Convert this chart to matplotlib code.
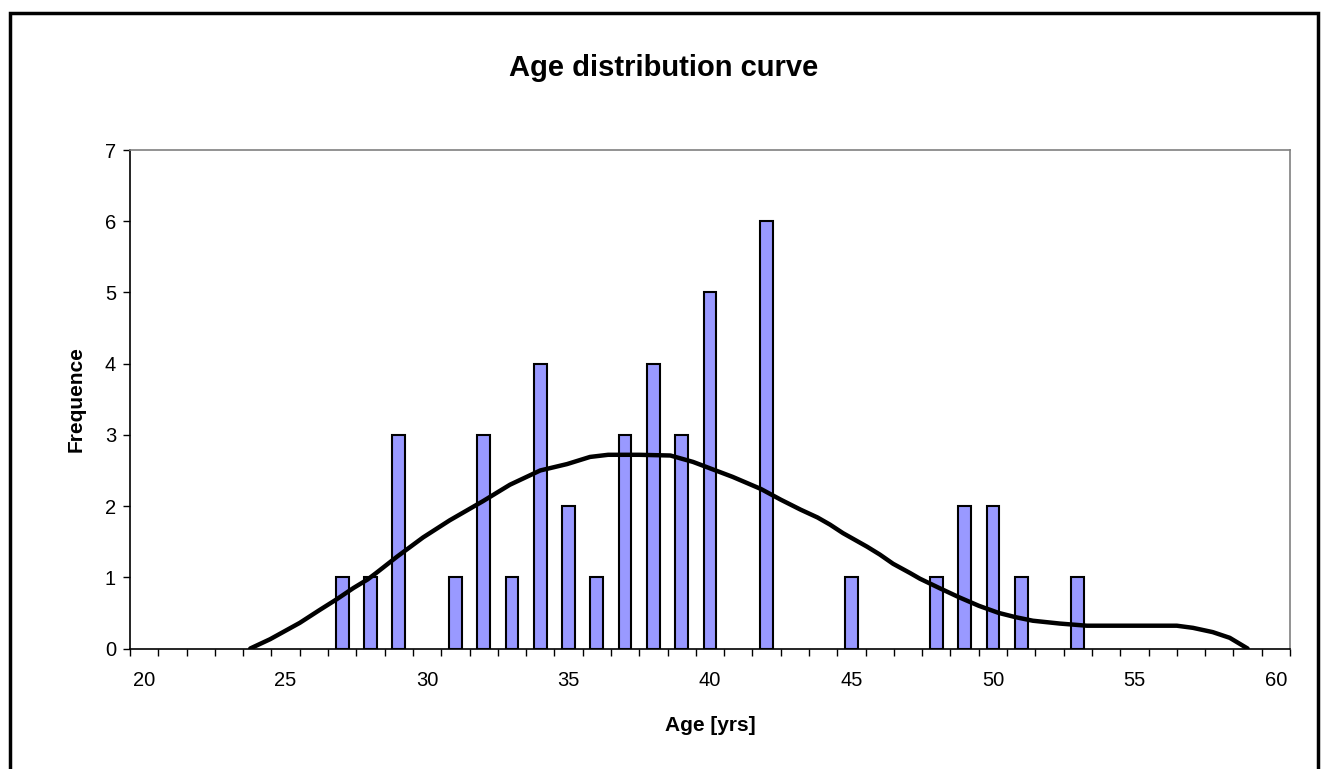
import matplotlib.pyplot as plt
from matplotlib.patches import Rectangle
import numpy as np

plt.rcParams['font.family'] = ['Liberation Sans', 'DejaVu Sans']

# histogram counts per age
ages = [27, 28, 29, 31, 32, 33, 34, 35, 36, 37, 38, 39, 40, 42, 45, 48, 49, 50, 51, 53]
counts = [1, 1, 3, 1, 3, 1, 4, 2, 1, 3, 4, 3, 5, 6, 1, 1, 2, 2, 1, 1]

# distribution curve
curve_age = [23.75, 24.45, 25.5, 26.2, 26.8, 27.4, 27.9, 28.2, 28.94, 29.86,
             30.8, 31.98, 32.93, 34.0, 34.95, 35.76, 36.4, 37.5, 38.6, 39.4,
             40.0, 40.8, 41.8, 42.5, 43.2, 43.8, 44.24, 44.7, 45.55, 46.0,
             46.47, 47.07, 47.42, 48.1, 48.8, 49.5, 50.2, 50.8, 51.41, 52.37,
             53.32, 54.5, 55.5, 56.5, 57.07, 57.77, 58.37, 59.0]
curve_val = [0.0, 0.13, 0.36, 0.54, 0.69, 0.85, 0.97, 1.06, 1.29, 1.56,
             1.80, 2.07, 2.30, 2.50, 2.59, 2.69, 2.72, 2.72, 2.71, 2.62,
             2.53, 2.41, 2.24, 2.09, 1.95, 1.84, 1.74, 1.62, 1.43, 1.32,
             1.19, 1.06, 0.98, 0.85, 0.72, 0.60, 0.50, 0.44, 0.39, 0.35,
             0.32, 0.32, 0.32, 0.32, 0.29, 0.23, 0.15, 0.0]

x_labels = [20, 25, 30, 35, 40, 45, 50, 55, 60]

fig = plt.figure(figsize=(13.27, 7.69), dpi=100)
ax = fig.add_axes([130/1327, 1 - 648.5/769, 1160/1327, 498.5/769])

ax.bar(ages, counts, width=0.45, color='#9999FF', edgecolor='black', linewidth=1.5, zorder=2)
ax.plot(curve_age, curve_val, color='black', linewidth=3.2, zorder=3,
        solid_joinstyle='round', solid_capstyle='round')

ax.set_xlim(19.5, 60.5)
ax.set_ylim(0, 7)
ax.set_yticks(range(0, 8))
ax.set_xticks(x_labels)
ax.set_xticks(np.arange(19.5, 61, 1), minor=True)
ax.tick_params(axis='x', which='major', length=0, pad=16, labelsize=14.5)
ax.tick_params(axis='x', which='minor', length=5, width=1, direction='out')
ax.tick_params(axis='y', length=5, width=1, direction='out', pad=5, labelsize=14.5)

for s in ['left', 'bottom']:
    ax.spines[s].set_color('black')
    ax.spines[s].set_linewidth(1.2)
for s in ['top', 'right']:
    ax.spines[s].set_color('#808080')
    ax.spines[s].set_linewidth(1.2)

ax.set_xlabel('Age [yrs]', fontsize=15, fontweight='bold', labelpad=19)
ax.set_ylabel('Frequence', fontsize=15, fontweight='bold', labelpad=14)
fig.text(0.5, 1 - 68/769, 'Age distribution curve', ha='center', va='center',
         fontsize=21, fontweight='bold')

# outer chart border, open at the bottom edge of the image
fig.patches.append(Rectangle((9.5/1327, -0.05), (1318 - 9.5)/1327, 1.05 - 12.5/769,
                             transform=fig.transFigure, fill=False,
                             edgecolor='black', linewidth=2.5))

fig.savefig('out.png', dpi=100)
